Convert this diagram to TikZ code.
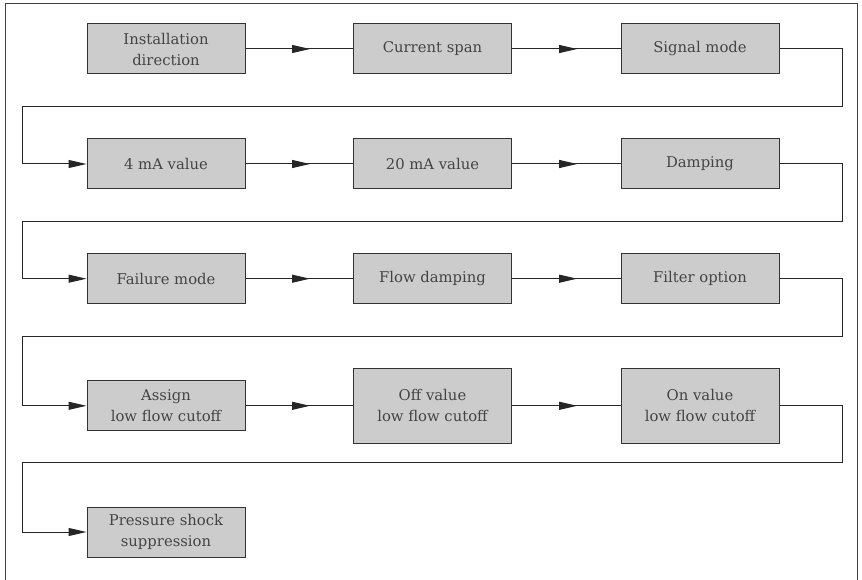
\documentclass[tikz,border=0pt]{standalone}
\usepackage{fontspec}
\setmainfont{DejaVu Serif}
\usetikzlibrary{arrows.meta,decorations.markings}
\definecolor{boxfill}{HTML}{CCCCCC}
\definecolor{boxline}{HTML}{333333}
\definecolor{txt}{HTML}{444444}
\begin{document}
\begin{tikzpicture}[x=1pt,y=-1pt,
  stepbox/.style={draw=boxline,fill=boxfill,line width=1pt,minimum width=158pt,minimum height=50pt,
    inner sep=0pt,align=center,text=txt,font=\fontsize{14.8}{21}\selectfont},
  tallbox/.style={stepbox,minimum height=75pt},
  flow/.style={line width=1pt,draw=black!85,postaction={decorate},
    decoration={markings,mark=at position 0.6 with {\arrow{Triangle[length=18pt,width=8pt]}}}},
  feed/.style={line width=1pt,draw=black!85,-{Triangle[length=18pt,width=8pt]}}]
\useasboundingbox (0,0) rectangle (862,580);
\draw[line width=1.3pt,draw=black!75] (5.5,590) -- (5.5,3.5) -- (857.5,3.5) -- (857.5,590);
% row 1
\node[stepbox] (a1) at (166,49) {Installation\\direction};
\node[stepbox] (a2) at (432.5,49) {Current span};
\node[stepbox] (a3) at (700,49) {Signal mode};
% row 2
\node[stepbox] (b1) at (166,164) {4 mA value};
\node[stepbox] (b2) at (432.5,164) {20 mA value};
\node[stepbox] (b3) at (700,164) {Damping};
% row 3
\node[stepbox] (c1) at (166,278.7) {Failure mode};
\node[stepbox] (c2) at (432.5,278.7) {Flow damping};
\node[stepbox] (c3) at (700,278.7) {Filter option};
% row 4
\node[stepbox] (d1) at (166,405.8) {Assign\\low flow cutoff};
\node[tallbox] (d2) at (432.5,405.8) {Off value\\low flow cutoff};
\node[tallbox] (d3) at (700,405.8) {On value\\low flow cutoff};
% row 5
\node[stepbox] (e1) at (166,532) {Pressure shock\\suppression};
% horizontal flows
\draw[flow] (a1) -- (a2);
\draw[flow] (a2) -- (a3);
\draw[flow] (b1) -- (b2);
\draw[flow] (b2) -- (b3);
\draw[flow] (c1) -- (c2);
\draw[flow] (c2) -- (c3);
\draw[flow] (d1) -- (d2);
\draw[flow] (d2) -- (d3);
% returns
\coordinate (ra) at (842.7,106.7);
\coordinate (rb) at (842.7,221.5);
\coordinate (rc) at (842.7,336);
\coordinate (rd) at (842.7,462.3);
\coordinate (la) at (22.3,106.7);
\coordinate (lb) at (22.3,221.5);
\coordinate (lc) at (22.3,336);
\coordinate (ld) at (22.3,462.3);
\draw[feed] (a3.east) -| (ra) -- (la) |- (b1.west);
\draw[feed] (b3.east) -| (rb) -- (lb) |- (c1.west);
\draw[feed] (c3.east) -| (rc) -- (lc) |- (d1.west);
\draw[feed] (d3.east) -| (rd) -- (ld) |- (e1.west);
\end{tikzpicture}
\end{document}
